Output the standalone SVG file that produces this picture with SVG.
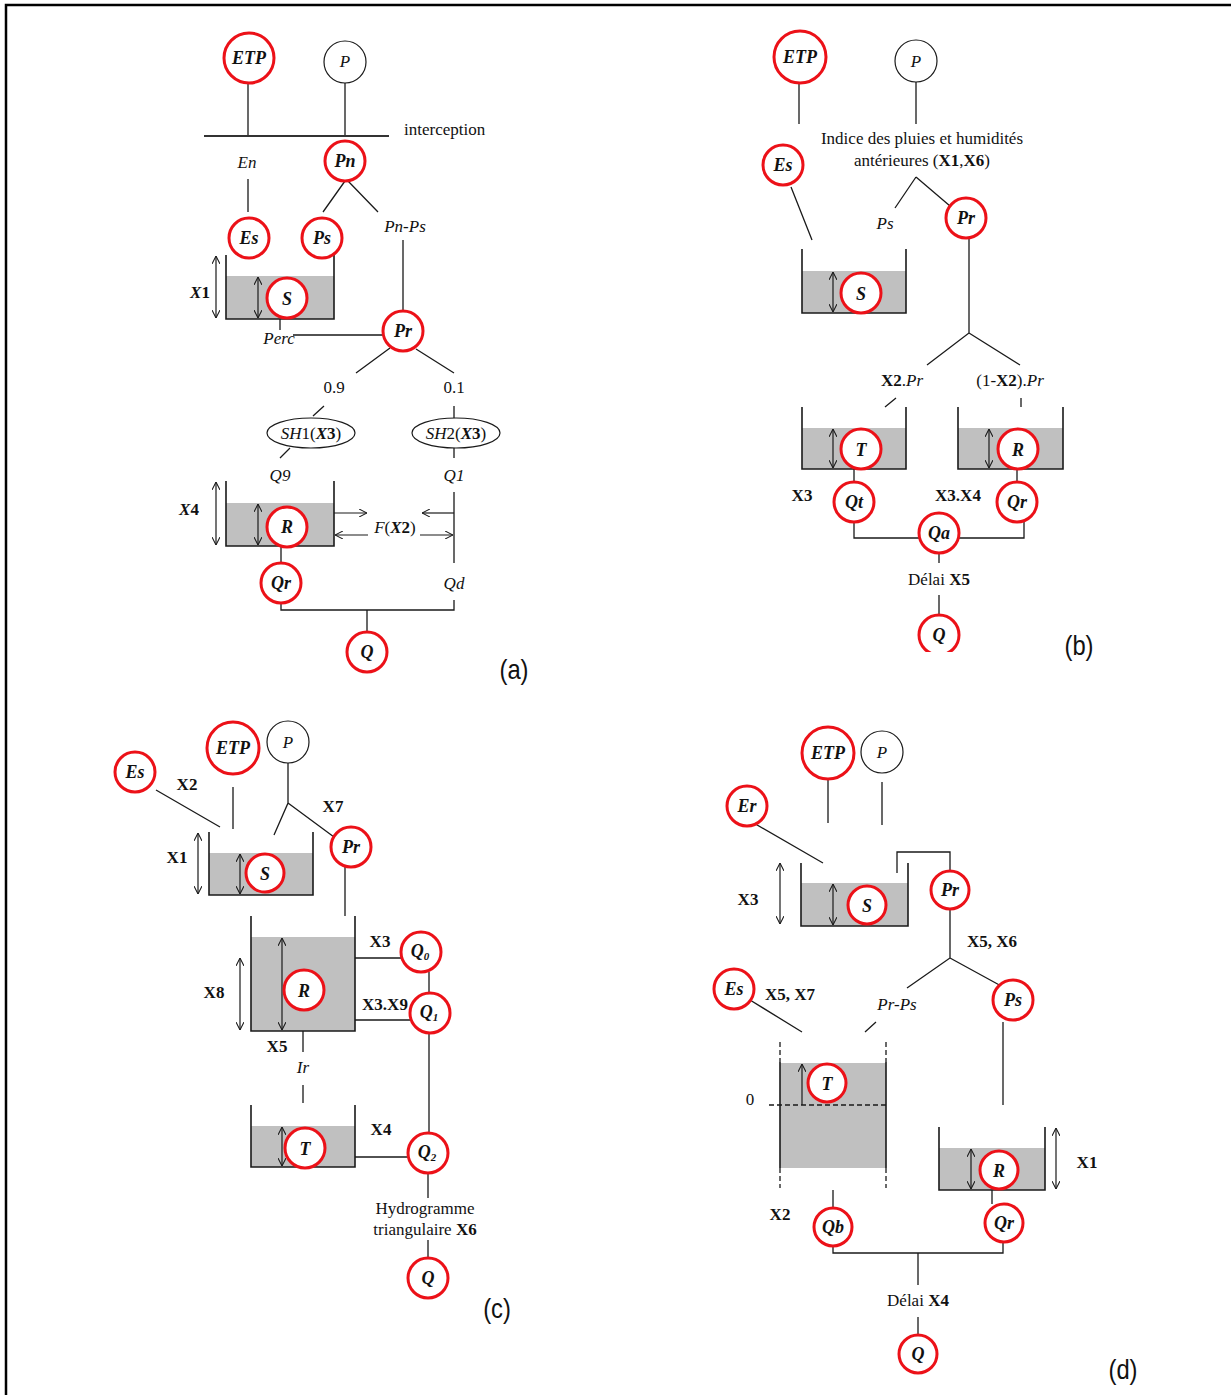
<svg xmlns="http://www.w3.org/2000/svg" width="1231" height="1395" viewBox="0 0 1231 1395">
<style>
.ln{stroke:#1a1a1a;stroke-width:1.3;fill:none}
.wall{stroke:#1a1a1a;stroke-width:1.6;fill:none}
.dash{stroke:#1a1a1a;stroke-width:1.3;fill:none;stroke-dasharray:5,3}
.rc{fill:#fff;stroke:#ec1118;stroke-width:3}
.bc{fill:#fff;stroke:#1a1a1a;stroke-width:1.2}
.water{fill:#c0c0c0}
.ar{stroke:#1a1a1a;stroke-width:1.2;fill:none;marker-start:url(#ah);marker-end:url(#ah)}
.ar1{stroke:#1a1a1a;stroke-width:1.2;fill:none;marker-end:url(#ah)}
text{font-family:"Liberation Serif","Times New Roman",serif;font-size:17px;fill:#111}
.ct{font-weight:bold;font-style:italic;text-anchor:middle;font-size:18px}
.m{text-anchor:middle}
.i{font-style:italic}
.b{font-weight:bold}
.bi{font-weight:bold;font-style:italic}
.tag{font-family:"Liberation Sans",Arial,sans-serif;font-size:28px;text-anchor:middle}
</style>
<defs>
<marker id="ah" viewBox="0 0 10 10" refX="10" refY="5" markerWidth="8" markerHeight="8" orient="auto-start-reverse" markerUnits="userSpaceOnUse">
<path d="M0,0 L10,5 L0,10" fill="none" stroke="#1a1a1a" stroke-width="1.3"/>
</marker>
<clipPath id="clipQb"><rect x="900" y="600" width="80" height="52"/></clipPath>
</defs>
<rect width="1231" height="1395" fill="#fff"/>
<path d="M6,1395 V5 H1231" fill="none" stroke="#000" stroke-width="2.5"/>

<!-- ================= Panel (a) ================= -->
<g id="a-connectors">
<path class="ln" d="M248,83 V136 M345,83 V136"/>
<path d="M204,136 H389" stroke="#333" stroke-width="1.8" fill="none"/>
<path class="ln" d="M248,179 V212 M345,181 L323,212 M348,181 L378,212 M403,240 V311"/>
<path class="ln" d="M280,319 V330 M293,335 H383"/>
<path class="ln" d="M390,348 L356,373 M416,349 L454,373 M324,406 L313,416 M454,406 V418 M290,448 L280,458 M454,448 V458"/>
<path class="ar1" d="M334,513 H367"/>
<path class="ar1" d="M454,513 H422"/>
<path class="ar1" d="M368,535 H335"/>
<path class="ar1" d="M420,535 H453"/>
<path class="ln" d="M454,492 V563 M281,546 V563 M454,600 V610 H281 V603 M367,610 V632"/>
</g>
<g id="a-tankS">
<rect class="water" x="226" y="276" width="108" height="43"/>
<path class="wall" d="M226,255 V319 H334 V255"/>
<path class="ar" d="M216,256 V318"/>
<path class="ar" d="M258,277 V318"/>
<text x="200" y="298" class="m"><tspan class="bi">X</tspan><tspan class="b">1</tspan></text>
</g>
<g id="a-tankR">
<rect class="water" x="226" y="503" width="108" height="43"/>
<path class="wall" d="M226,481 V546 H334 V481"/>
<path class="ar" d="M216,482 V545"/>
<path class="ar" d="M258,504 V545"/>
<text x="189" y="515" class="m"><tspan class="bi">X</tspan><tspan class="b">4</tspan></text>
</g>
<g id="a-ETP"><circle class="rc" cx="249" cy="58" r="25"/><text class="ct" x="249" y="64">ETP</text></g>
<g id="a-P"><circle class="bc" cx="345" cy="62" r="21"/><text class="m i" x="345" y="67">P</text></g>
<g id="a-interception"><text x="404" y="135">interception</text></g>
<g id="a-En"><text class="m i" x="247" y="168">En</text></g>
<g id="a-Pn"><circle class="rc" cx="345" cy="161" r="20"/><text class="ct" x="345" y="167">Pn</text></g>
<g id="a-Es"><circle class="rc" cx="249" cy="238" r="20"/><text class="ct" x="249" y="244">Es</text></g>
<g id="a-Ps"><circle class="rc" cx="322" cy="238" r="20"/><text class="ct" x="322" y="244">Ps</text></g>
<g id="a-PnPs"><text class="m i" x="405" y="232">Pn-Ps</text></g>
<g id="a-S"><circle class="rc" cx="287" cy="298" r="20"/><text class="ct" x="287" y="305">S</text></g>
<g id="a-Perc"><text class="m i" x="279" y="344">Perc</text></g>
<g id="a-Pr"><circle class="rc" cx="403" cy="331" r="20"/><text class="ct" x="403" y="337">Pr</text></g>
<g id="a-09"><text class="m" x="334" y="393">0.9</text></g>
<g id="a-01"><text class="m" x="454" y="393">0.1</text></g>
<g id="a-SH1"><ellipse cx="311" cy="433" rx="44" ry="15" class="bc"/><text class="m" x="311" y="439"><tspan class="i">SH</tspan>1(<tspan class="bi">X</tspan><tspan class="b">3</tspan>)</text></g>
<g id="a-SH2"><ellipse cx="456" cy="433" rx="44" ry="15" class="bc"/><text class="m" x="456" y="439"><tspan class="i">SH</tspan>2(<tspan class="bi">X</tspan><tspan class="b">3</tspan>)</text></g>
<g id="a-Q9"><text class="m i" x="280" y="481">Q9</text></g>
<g id="a-Q1"><text class="m i" x="454" y="481">Q1</text></g>
<g id="a-R"><circle class="rc" cx="287" cy="527" r="20"/><text class="ct" x="287" y="533">R</text></g>
<g id="a-F"><text class="m" x="395" y="533"><tspan class="i">F</tspan>(<tspan class="bi">X</tspan><tspan class="b">2</tspan>)</text></g>
<g id="a-Qd"><text class="m i" x="454" y="589">Qd</text></g>
<g id="a-Qr"><circle class="rc" cx="281" cy="583" r="20"/><text class="ct" x="281" y="589">Qr</text></g>
<g id="a-Q"><circle class="rc" cx="367" cy="652" r="20"/><text class="ct" x="367" y="658">Q</text></g>
<text class="tag" transform="translate(514,679) scale(0.85,1)">(a)</text>

<!-- ================= Panel (b) ================= -->
<g id="b-connectors">
<path class="ln" d="M799,83 V124 M916,82 V124 M791,187 L812,240 M916,177 L895,208 M916,177 L950,206"/>
<path class="ln" d="M969,238 V333 L927,365 M969,333 L1020,365 M896,398 L885,407 M1021,398 V407"/>
<path class="ln" d="M854,469 V483 M1017,469 V483 M854,522 V538 H1024 V522 M939,553 V563 M939,595 V615"/>
</g>
<g id="b-tankS">
<rect class="water" x="802" y="271" width="104" height="42"/>
<path class="wall" d="M802,249 V313 H906 V249"/>
<path class="ar" d="M833,272 V312"/>
</g>
<g id="b-tankT">
<rect class="water" x="802" y="428" width="104" height="41"/>
<path class="wall" d="M802,407 V469 H906 V407"/>
<path class="ar" d="M833,429 V468"/>
</g>
<g id="b-tankR">
<rect class="water" x="958" y="428" width="105" height="41"/>
<path class="wall" d="M958,407 V469 H1063 V407"/>
<path class="ar" d="M989,429 V468"/>
</g>
<g id="b-ETP"><circle class="rc" cx="800" cy="57" r="26"/><text class="ct" x="800" y="63">ETP</text></g>
<g id="b-P"><circle class="bc" cx="916" cy="61" r="21"/><text class="m i" x="916" y="67">P</text></g>
<g id="b-indice"><text class="m" x="922" y="144">Indice des pluies et humidités</text><text class="m" x="922" y="166">antérieures (<tspan class="b">X1</tspan>,<tspan class="b">X6</tspan>)</text></g>
<g id="b-Es"><circle class="rc" cx="783" cy="165" r="20"/><text class="ct" x="783" y="171">Es</text></g>
<g id="b-Ps"><text class="m i" x="885" y="229">Ps</text></g>
<g id="b-Pr"><circle class="rc" cx="966" cy="218" r="20"/><text class="ct" x="966" y="224">Pr</text></g>
<g id="b-S"><circle class="rc" cx="861" cy="293" r="20"/><text class="ct" x="861" y="300">S</text></g>
<g id="b-X2Pr"><text class="m" x="902" y="386"><tspan class="b">X2</tspan>.<tspan class="i">Pr</tspan></text></g>
<g id="b-1X2Pr"><text class="m" x="1010" y="386">(1-<tspan class="b">X2</tspan>).<tspan class="i">Pr</tspan></text></g>
<g id="b-T"><circle class="rc" cx="861" cy="449" r="20"/><text class="ct" x="861" y="456">T</text></g>
<g id="b-R"><circle class="rc" cx="1018" cy="449" r="20"/><text class="ct" x="1018" y="456">R</text></g>
<g id="b-X3"><text class="m b" x="802" y="501">X3</text></g>
<g id="b-X3X4"><text class="m b" x="958" y="501">X3.X4</text></g>
<g id="b-Qt"><circle class="rc" cx="854" cy="502" r="20"/><text class="ct" x="854" y="508">Qt</text></g>
<g id="b-Qr"><circle class="rc" cx="1017" cy="502" r="20"/><text class="ct" x="1017" y="508">Qr</text></g>
<g id="b-Qa"><circle class="rc" cx="939" cy="533" r="20"/><text class="ct" x="939" y="539">Qa</text></g>
<g id="b-delai"><text class="m" x="939" y="585">Délai <tspan class="b">X5</tspan></text></g>
<g id="b-Q" clip-path="url(#clipQb)"><circle class="rc" cx="939" cy="635" r="20"/><text class="ct" x="939" y="641">Q</text></g>
<text class="tag" transform="translate(1079,655) scale(0.85,1)">(b)</text>

<!-- ================= Panel (c) ================= -->
<g id="c-connectors">
<path class="ln" d="M156,790 L220,827 M233,787 V829 M288,763 V803 L274,835 M288,803 L334,837 M345,867 V916"/>
<path class="ln" d="M355,958 H401 M355,1020 H410 M429,972 V993 M429,1033 V1133"/>
<path class="ln" d="M303,1031 V1052 M303,1085 V1103 M355,1157 H408 M428,1173 V1198 M428,1240 V1258"/>
</g>
<g id="c-tankS">
<rect class="water" x="209" y="853" width="104" height="42"/>
<path class="wall" d="M209,832 V895 H313 V832"/>
<path class="ar" d="M198,833 V894"/>
<path class="ar" d="M240,854 V894"/>
</g>
<g id="c-tankR">
<rect class="water" x="251" y="937" width="104" height="94"/>
<path class="wall" d="M251,916 V1031 H355 V916"/>
<path class="ar" d="M240,958 V1030"/>
<path class="ar" d="M282,938 V1030"/>
</g>
<g id="c-tankT">
<rect class="water" x="251" y="1126" width="104" height="41"/>
<path class="wall" d="M251,1105 V1167 H355 V1105"/>
<path class="ar" d="M282,1127 V1166"/>
</g>
<g id="c-Es"><circle class="rc" cx="135" cy="772" r="20"/><text class="ct" x="135" y="778">Es</text></g>
<g id="c-ETP"><circle class="rc" cx="233" cy="748" r="26"/><text class="ct" x="233" y="754">ETP</text></g>
<g id="c-P"><circle class="bc" cx="288" cy="742" r="21"/><text class="m i" x="288" y="748">P</text></g>
<g id="c-X2"><text class="m b" x="187" y="790">X2</text></g>
<g id="c-X7"><text class="m b" x="333" y="812">X7</text></g>
<g id="c-X1"><text class="m b" x="177" y="863">X1</text></g>
<g id="c-Pr"><circle class="rc" cx="351" cy="847" r="20"/><text class="ct" x="351" y="853">Pr</text></g>
<g id="c-S"><circle class="rc" cx="265" cy="873" r="19"/><text class="ct" x="265" y="880">S</text></g>
<g id="c-X8"><text class="m b" x="214" y="998">X8</text></g>
<g id="c-R"><circle class="rc" cx="304" cy="990" r="20"/><text class="ct" x="304" y="997">R</text></g>
<g id="c-X3"><text class="m b" x="380" y="947">X3</text></g>
<g id="c-X3X9"><text class="m b" x="385" y="1010">X3.X9</text></g>
<g id="c-Q0"><circle class="rc" cx="421" cy="952" r="20"/><text class="ct" x="420" y="957">Q<tspan font-size="11" dy="3">0</tspan></text></g>
<g id="c-Q1"><circle class="rc" cx="430" cy="1013" r="20"/><text class="ct" x="429" y="1018">Q<tspan font-size="11" dy="3">1</tspan></text></g>
<g id="c-X5"><text class="m b" x="277" y="1052">X5</text></g>
<g id="c-Ir"><text class="m i" x="303" y="1073">Ir</text></g>
<g id="c-X4"><text class="m b" x="381" y="1135">X4</text></g>
<g id="c-T"><circle class="rc" cx="305" cy="1148" r="20"/><text class="ct" x="305" y="1155">T</text></g>
<g id="c-Q2"><circle class="rc" cx="428" cy="1153" r="20"/><text class="ct" x="427" y="1158">Q<tspan font-size="11" dy="3">2</tspan></text></g>
<g id="c-hydro"><text class="m" x="425" y="1214">Hydrogramme</text><text class="m" x="425" y="1235">triangulaire <tspan class="b">X6</tspan></text></g>
<g id="c-Q"><circle class="rc" cx="428" cy="1278" r="20"/><text class="ct" x="428" y="1284">Q</text></g>
<text class="tag" transform="translate(497,1318) scale(0.85,1)">(c)</text>

<!-- ================= Panel (d) ================= -->
<g id="d-connectors">
<path class="ln" d="M828,779 V823 M882,782 V825 M752,822 L823,863 M897,873 V852 H950 V871"/>
<path class="ln" d="M950,909 V958 L907,988 M950,958 L1003,987 M876,1022 L865,1032 M750,1000 L802,1032 M1003,1022 V1105"/>
<path class="ln" d="M833,1190 V1208 M992,1190 V1204 M833,1246 V1253 H1003 V1242 M918,1253 V1285 M918,1317 V1335"/>
</g>
<g id="d-tankS">
<rect class="water" x="801" y="883" width="107" height="43"/>
<path class="wall" d="M801,863 V926 H908 V863"/>
<path class="ar" d="M780,863 V924"/>
<path class="ar" d="M833,884 V925"/>
</g>
<g id="d-tankT">
<rect class="water" x="780" y="1063" width="106" height="105"/>
<path class="wall" d="M780,1062 V1168 M886,1062 V1168"/>
<path class="dash" d="M780,1042 V1062 M780,1168 V1188 M886,1042 V1062 M886,1168 V1188 M769,1105 H886"/>
<path class="ar1" d="M802,1105 V1064"/>
</g>
<g id="d-tankR">
<rect class="water" x="939" y="1148" width="106" height="42"/>
<path class="wall" d="M939,1127 V1190 H1045 V1127"/>
<path class="ar" d="M1056,1128 V1189"/>
<path class="ar" d="M971,1149 V1189"/>
</g>
<g id="d-ETP"><circle class="rc" cx="828" cy="753" r="26"/><text class="ct" x="828" y="759">ETP</text></g>
<g id="d-P"><circle class="bc" cx="882" cy="752" r="21"/><text class="m i" x="882" y="758">P</text></g>
<g id="d-Er"><circle class="rc" cx="747" cy="806" r="20"/><text class="ct" x="747" y="812">Er</text></g>
<g id="d-X3"><text class="m b" x="748" y="905">X3</text></g>
<g id="d-S"><circle class="rc" cx="867" cy="905" r="19"/><text class="ct" x="867" y="912">S</text></g>
<g id="d-Pr"><circle class="rc" cx="950" cy="890" r="19"/><text class="ct" x="950" y="896">Pr</text></g>
<g id="d-X5X6"><text class="m b" x="992" y="947">X5, X6</text></g>
<g id="d-Es"><circle class="rc" cx="734" cy="989" r="20"/><text class="ct" x="734" y="995">Es</text></g>
<g id="d-X5X7"><text class="m b" x="790" y="1000">X5, X7</text></g>
<g id="d-PrPs"><text class="m i" x="897" y="1010">Pr-Ps</text></g>
<g id="d-Ps"><circle class="rc" cx="1013" cy="1000" r="20"/><text class="ct" x="1013" y="1006">Ps</text></g>
<g id="d-0"><text class="m" x="750" y="1105">0</text></g>
<g id="d-T"><circle class="rc" cx="827" cy="1083" r="19"/><text class="ct" x="827" y="1090">T</text></g>
<g id="d-R"><circle class="rc" cx="999" cy="1170" r="19"/><text class="ct" x="999" y="1177">R</text></g>
<g id="d-X1"><text class="m b" x="1087" y="1168">X1</text></g>
<g id="d-X2"><text class="m b" x="780" y="1220">X2</text></g>
<g id="d-Qb"><circle class="rc" cx="833" cy="1227" r="19"/><text class="ct" x="833" y="1233">Qb</text></g>
<g id="d-Qr"><circle class="rc" cx="1004" cy="1223" r="19"/><text class="ct" x="1004" y="1229">Qr</text></g>
<g id="d-delai"><text class="m" x="918" y="1306">Délai <tspan class="b">X4</tspan></text></g>
<g id="d-Q"><circle class="rc" cx="918" cy="1354" r="19"/><text class="ct" x="918" y="1360">Q</text></g>
<text class="tag" transform="translate(1123,1379) scale(0.85,1)">(d)</text>
</svg>
